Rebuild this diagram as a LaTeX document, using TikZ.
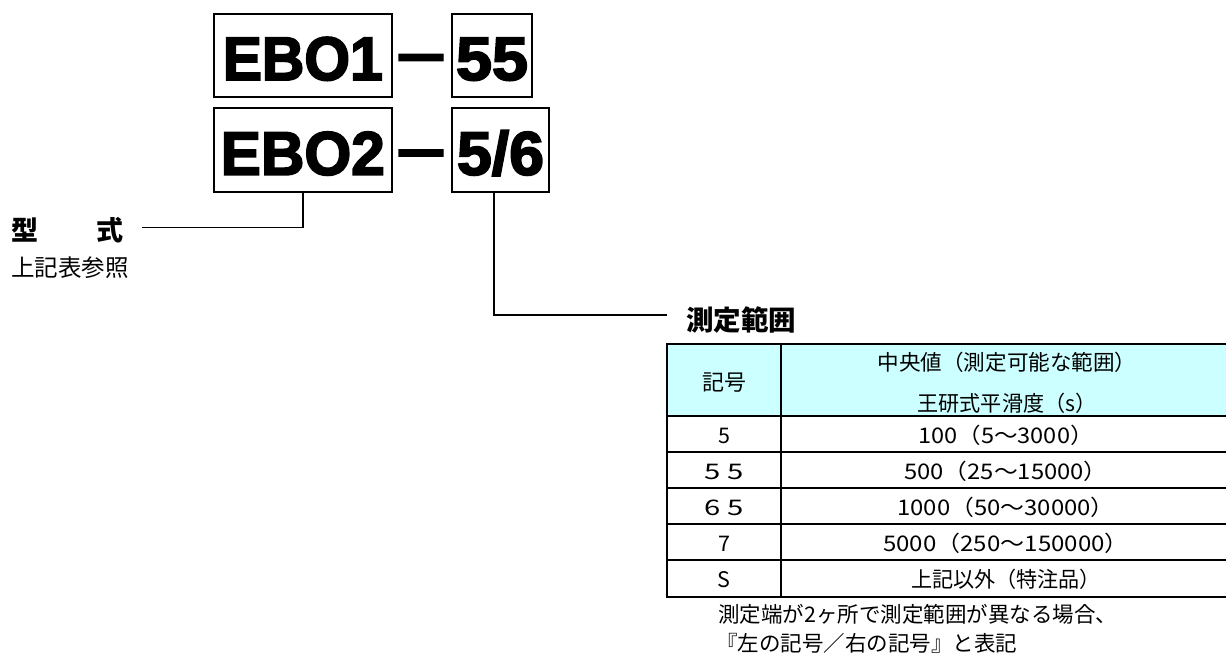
\documentclass[tikz,border=0pt]{standalone}
\usepackage{fontspec}
\usepackage{graphicx}
\newfontfamily\jp{Noto Sans CJK JP}
\newfontfamily\ebo[BoldFeatures={FakeBold=3}]{Liberation Sans}
\definecolor{hdr}{RGB}{204,255,255}
\newcommand\fsz[1]{\fontsize{#1pt}{#1pt}\selectfont}
\newcommand\fitw[2]{\resizebox{#1pt}{\height}{#2}}
\begin{document}
\begin{tikzpicture}[x=1pt,y=-1pt,
  codebox/.style={draw, line width=2pt, inner sep=0pt, anchor=north west,
    text height=50pt, text depth=0pt, font=\ebo\bfseries\fsz{61.5}},
  dashtxt/.style={inner sep=0pt, anchor=base, font=\ebo\bfseries\fsz{61.5}},
  conn/.style={line width=1.8pt},
  gridline/.style={line width=2pt},
  cell/.style={inner sep=0pt, anchor=base, font=\jp\fsz{21.5}},
  note/.style={inner sep=0pt, anchor=base west, font=\jp\fsz{21.5}}]
\useasboundingbox (0,0) rectangle (1226,664);
\clip (0,0) rectangle (1226,664);

% code boxes
\node[codebox, minimum width=177.5pt, minimum height=83pt] (ebo1) at (213,12.5) {\fitw{160}{EBO1}};
\node[codebox, minimum width=80pt, minimum height=83pt] (b55) at (451,12.5) {\fitw{72}{55}};
\node[codebox, minimum width=177.5pt, minimum height=83.5pt] (ebo2) at (213,107) {\fitw{164}{EBO2}};
\node[codebox, minimum width=97pt, minimum height=83.5pt] (b56) at (451,107) {\fitw{87}{5/6}};
\node[dashtxt] (d1) at (421,74) {\resizebox{44pt}{\height}{—}};
\node[dashtxt] (d2) at (421,169.5) {\resizebox{44pt}{\height}{—}};

% type label
\node[inner sep=0pt, anchor=base west, font=\jp\bfseries\fsz{27}] (kata) at (11,240) {型\hspace{58pt}式};
\node[inner sep=0pt, anchor=base west, font=\jp\fsz{23.5}] (ref) at (11,276) {上記表参照};
\coordinate (k1) at (142,227.5);
\draw[conn] (ebo2.south) |- (k1);

% range label
\node[inner sep=0pt, anchor=base west, font=\jp\bfseries\fsz{27.5}] (sokutei) at (686,330) {測定範囲};
\coordinate (c2) at (667,315);
\draw[conn] ([xshift=-6.5pt]b56.south) |- (c2);

% table
\fill[hdr] (667,344) rectangle (1230,415.5);
\draw[gridline] (667,344) rectangle (1230,596.5);
\draw[gridline] (781,344) -- (781,596.5);
\foreach \yy in {415.5,452,488,524,560}
  \draw[gridline] (667,\yy) -- (1230,\yy);

\node[cell] (h1) at (724,390.5) {\fsz{22}記号};
\node[cell] (h2a) at (1007,370.5) {\fitw{259}{中央値（測定可能な範囲）}};
\node[cell] (h2b) at (1007,411.5) {\fitw{179}{王研式平滑度（s）}};

\node[cell] (r1a) at (724,443.5) {5};
\node[cell] (r1b) at (1006,443.5) {\fitw{175.5}{100（5〜3000）}};
\node[cell] (r2a) at (724,479.5) {\fitw{39}{5 5}};
\node[cell] (r2b) at (1006,479.5) {\fitw{203.5}{500（25〜15000）}};
\node[cell] (r3a) at (724,515.5) {\fitw{39}{6 5}};
\node[cell] (r3b) at (1006,515.5) {\fitw{217.5}{1000（50〜30000）}};
\node[cell] (r4a) at (724,551.5) {7};
\node[cell] (r4b) at (1006,551.5) {\fitw{245.5}{5000（250〜150000）}};
\node[cell] (r5a) at (724,587.5) {S};
\node[cell] (r5b) at (1006,587.5) {\fitw{190}{上記以外（特注品）}};

\node[note] (n1) at (718,622) {測定端が2ヶ所で測定範囲が異なる場合、};
\node[note] (n2) at (716,651) {『左の記号／右の記号』と表記};
\end{tikzpicture}
\end{document}
